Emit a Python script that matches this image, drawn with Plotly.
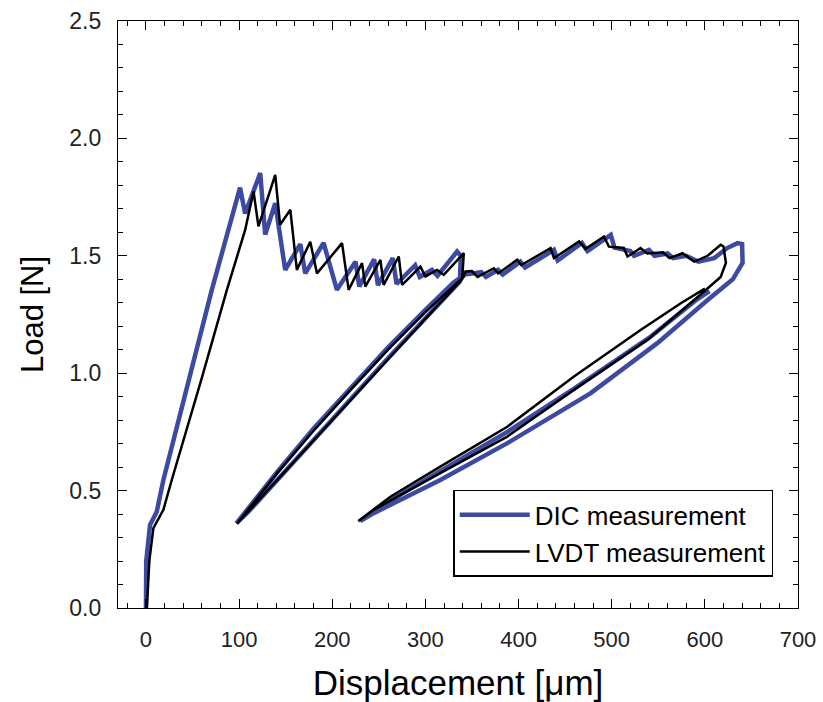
import plotly.graph_objects as go

# ---- DIC measurement (blue) ----
dic_x = [0, 0.3, 4.4, 11.6, 18.7, 45, 70.7, 101, 106.5, 122.7, 128, 138.8, 149.5, 165.7, 171,
         190.7, 205, 225, 229, 245, 249, 265, 269, 289, 294, 307, 313, 334, 338,
         337, 300, 260, 220, 180, 140, 110, 97,
         110, 140, 180, 220, 260, 300, 330, 342,
         360, 365, 378, 383, 402, 407, 438, 442, 468, 474, 499, 503, 520, 524, 540, 546,
         560, 566, 580, 593, 610, 624, 635, 640, 640.5,
         630, 603, 549, 477.5, 388, 316, 244.5, 230,
         250, 316, 388, 460, 540, 590, 605]
dic_y = [0, 0.2, 0.354, 0.41, 0.545, 0.96, 1.355, 1.79, 1.68, 1.852, 1.59, 1.724, 1.44, 1.55, 1.425,
         1.555, 1.355, 1.475, 1.37, 1.485, 1.375, 1.49, 1.38, 1.46, 1.41, 1.44, 1.415, 1.518, 1.50,
         1.39, 1.235, 1.065, 0.89, 0.715, 0.54, 0.41, 0.36,
         0.425, 0.575, 0.765, 0.94, 1.11, 1.27, 1.385, 1.42,
         1.43, 1.41, 1.44, 1.42, 1.475, 1.45, 1.525, 1.48, 1.555, 1.52, 1.589, 1.535, 1.52, 1.50, 1.525, 1.50,
         1.51, 1.49, 1.50, 1.475, 1.49, 1.533, 1.554, 1.55, 1.47,
         1.40, 1.312, 1.128, 0.915, 0.702, 0.545, 0.404, 0.37,
         0.43, 0.585, 0.75, 0.935, 1.15, 1.31, 1.35]

# ---- LVDT measurement (black) ----
lvdt_x = [1, 3.7, 8, 18.7, 27.7, 60, 86.9, 106.5, 115.5, 120.8, 138.8, 144, 155, 162, 176.4, 183.6,
          210.5, 217.6, 232, 235.5, 251.7, 255.2, 271.4, 275, 294.7, 300, 312.6, 319.7, 341.2, 339.5,
          300, 260, 220, 180, 140, 110, 98,
          110, 140, 180, 220, 260, 300, 330, 341,
          343, 350, 356, 373.5, 378, 398.6, 403, 434.4, 438, 465, 472, 491.7, 497, 513, 517, 531, 538,
          555, 562, 576, 588.6, 603, 617, 620, 622.6,
          617, 588.6, 538.4, 459.5, 387.9, 316, 244.5, 228,
          262.4, 316, 387.9, 459.5, 531, 575, 600]
lvdt_y = [0, 0.204, 0.34, 0.418, 0.545, 0.98, 1.355, 1.61, 1.774, 1.625, 1.845, 1.632, 1.696, 1.44, 1.56, 1.425,
          1.554, 1.355, 1.469, 1.369, 1.483, 1.376, 1.497, 1.376, 1.454, 1.412, 1.44, 1.419, 1.511, 1.40,
          1.232, 1.059, 0.886, 0.714, 0.541, 0.412, 0.36,
          0.42, 0.57, 0.755, 0.93, 1.10, 1.26, 1.37, 1.41,
          1.433, 1.435, 1.41, 1.447, 1.425, 1.483, 1.46, 1.533, 1.49, 1.561, 1.53, 1.582, 1.539, 1.533, 1.497, 1.533, 1.51,
          1.515, 1.49, 1.511, 1.475, 1.50, 1.547, 1.54, 1.47,
          1.41, 1.312, 1.142, 0.929, 0.730, 0.574, 0.418, 0.37,
          0.474, 0.602, 0.772, 0.986, 1.184, 1.30, 1.36]

x_ticks = [0, 100, 200, 300, 400, 500, 600, 700]
y_ticks = [0.0, 0.5, 1.0, 1.5, 2.0, 2.5]
y_tick_text = ["0.0", "0.5", "1.0", "1.5", "2.0", "2.5"]

BLUE = "#3c4aa2"
FONT = "Liberation Sans, Arial, sans-serif"

fig = go.Figure()
fig.add_trace(go.Scatter(x=dic_x, y=dic_y, mode="lines", name="DIC measurement",
                         line=dict(color=BLUE, width=4.5)))
fig.add_trace(go.Scatter(x=lvdt_x, y=lvdt_y, mode="lines", name="LVDT measurement",
                         line=dict(color="black", width=2.5)))

axis_common = dict(showline=True, linecolor="black", linewidth=1.2, mirror="ticks",
                   ticks="inside", tickcolor="black", ticklen=9, tickwidth=1,
                   showgrid=False, zeroline=False, automargin=False)

fig.update_xaxes(range=[-30, 700], tickvals=x_ticks,
                 tickfont=dict(family=FONT, size=22, color="#222"),
                 minor=dict(dtick=20, tick0=0, ticks="inside", ticklen=5, tickcolor="black"),
                 title=dict(text="Displacement [μm]", font=dict(family=FONT, size=35, color="black"), standoff=22),
                 ticklabelstandoff=11, **axis_common)
fig.update_yaxes(range=[0, 2.5], tickvals=y_ticks, ticktext=y_tick_text,
                 tickfont=dict(family=FONT, size=23, color="#222"),
                 minor=dict(dtick=0.1, tick0=0, ticks="inside", ticklen=5, tickcolor="black"),
                 title=dict(text="Load [N]", font=dict(family=FONT, size=31, color="black"), standoff=16),
                 ticklabelstandoff=11, **axis_common)

fig.update_layout(
    width=823, height=702,
    margin=dict(l=118, r=25, t=21, b=94),
    plot_bgcolor="white", paper_bgcolor="white",
    showlegend=True,
    legend=dict(x=0.493, y=0.053, xanchor="left", yanchor="bottom",
                bgcolor="white", bordercolor="black", borderwidth=1.5,
                font=dict(family=FONT, size=26, color="black"),
                itemwidth=70, tracegroupgap=0),
)

fig.write_html("out.html", config={"displayModeBar": False},
               post_script="document.body.style.margin='0px';document.body.style.padding='0px';")
